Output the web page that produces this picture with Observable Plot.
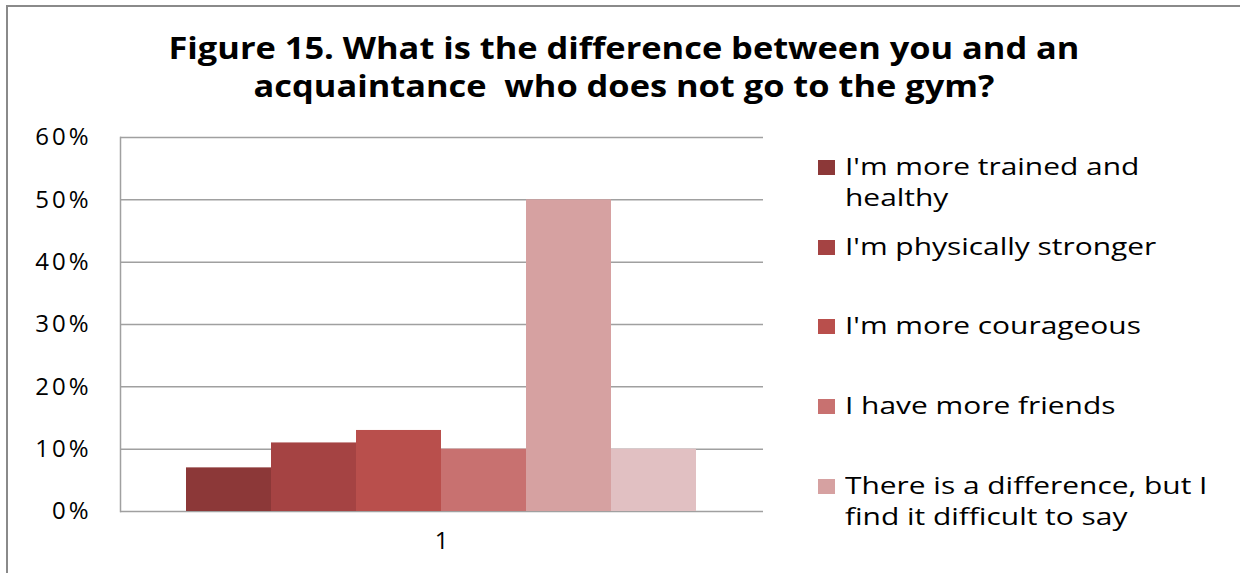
<!DOCTYPE html>
<html>
<head>
<meta charset="utf-8">
<script src="https://cdn.jsdelivr.net/npm/d3@7"></script>
<script src="https://cdn.jsdelivr.net/npm/@observablehq/plot@0.6"></script>
<style>
  html, body { margin: 0; padding: 0; background: #fff; }
  #wrap { position: relative; width: 1240px; height: 573px; overflow: hidden; background: #fff; font-family: "Open Sans", sans-serif; color: #000; }
  #border { position: absolute; left: 6px; top: 5px; width: 1300px; height: 700px; border-left: 2px solid #8a8a8a; border-top: 2px solid #8a8a8a; }
  #title { position: absolute; left: 8px; top: 29px; width: 1232px; text-align: center; font-weight: bold; font-size: 30px; line-height: 38px; transform: scaleX(1.146); transform-origin: 616px 0; }
  #chart { position: absolute; left: 0; top: 110px; }
  #legend { position: absolute; left: 818px; top: 151px; }
  .item { display: flex; align-items: flex-start; height: 79.7px; }
  .sw { width: 17px; height: 15px; margin-top: 9px; margin-right: 10px; flex: none; }
  .lt { width: 286px; font-size: 23px; line-height: 31px; transform: scaleX(1.3); transform-origin: 0 0; }
</style>
</head>
<body>
<div id="wrap">
  <div id="border"></div>
  <div id="title"></div>
  <div id="chart"></div>
  <div id="legend"></div>
</div>
<script>
const titleLines = ["Figure 15. What is the difference between you and an", "acquaintance  who does not go to the gym?"];
const categories = ["1"];
const series = [
  "I'm more trained and healthy",
  "I'm physically stronger",
  "I'm more courageous",
  "I have more friends",
  "There is a difference, but I find it difficult to say",
  "There is no difference"
];
const values = [0.07, 0.11, 0.13, 0.10, 0.50, 0.10];
const colors = ["#8C3838", "#A54343", "#B94F4C", "#C87170", "#D6A1A1", "#E1C0C2"];
const yTicks = [0, 0.1, 0.2, 0.3, 0.4, 0.5, 0.6];
const legendCount = 5; // the sixth entry is cut off in the original legend

const data = series.map((s, i) => ({series: s, category: categories[0], value: values[i]}));

document.getElementById("title").innerHTML = titleLines.map(t => `<div style="white-space:pre">${t}</div>`).join("");

const chart = Plot.plot({
  width: 800,
  height: 463,
  marginLeft: 120,
  marginRight: 37,
  marginTop: 27,
  marginBottom: 62,
  style: {fontFamily: "Open Sans", fontSize: "24px", letterSpacing: "3px", color: "#000", background: "transparent", overflow: "visible"},
  x: {domain: series, padding: 0, insetLeft: 64, insetRight: 66, axis: null},
  y: {domain: [0, 0.6], ticks: yTicks, tickFormat: d3.format(".0%"), tickSize: 0, tickPadding: 29, label: null},
  color: {domain: series, range: colors},
  marks: [
    Plot.gridY(yTicks, {stroke: "#a0a0a0", strokeOpacity: 1, strokeWidth: 1.5}),
    Plot.frame({anchor: "left", stroke: "#a0a0a0", strokeWidth: 1.5}),
    Plot.barY(data, {x: "series", y: "value", fill: "series"}),
    Plot.text(categories, {frameAnchor: "bottom", dy: 37, dx: 1, text: d => d, fontSize: 24, fill: "#000"})
  ]
});
document.getElementById("chart").appendChild(chart);

const legend = d3.select("#legend");
series.slice(0, legendCount).forEach((s, i) => {
  const item = legend.append("div").attr("class", "item");
  item.append("div").attr("class", "sw").style("background", colors[i]);
  item.append("div").attr("class", "lt").text(s);
});
</script>
</body>
</html>
